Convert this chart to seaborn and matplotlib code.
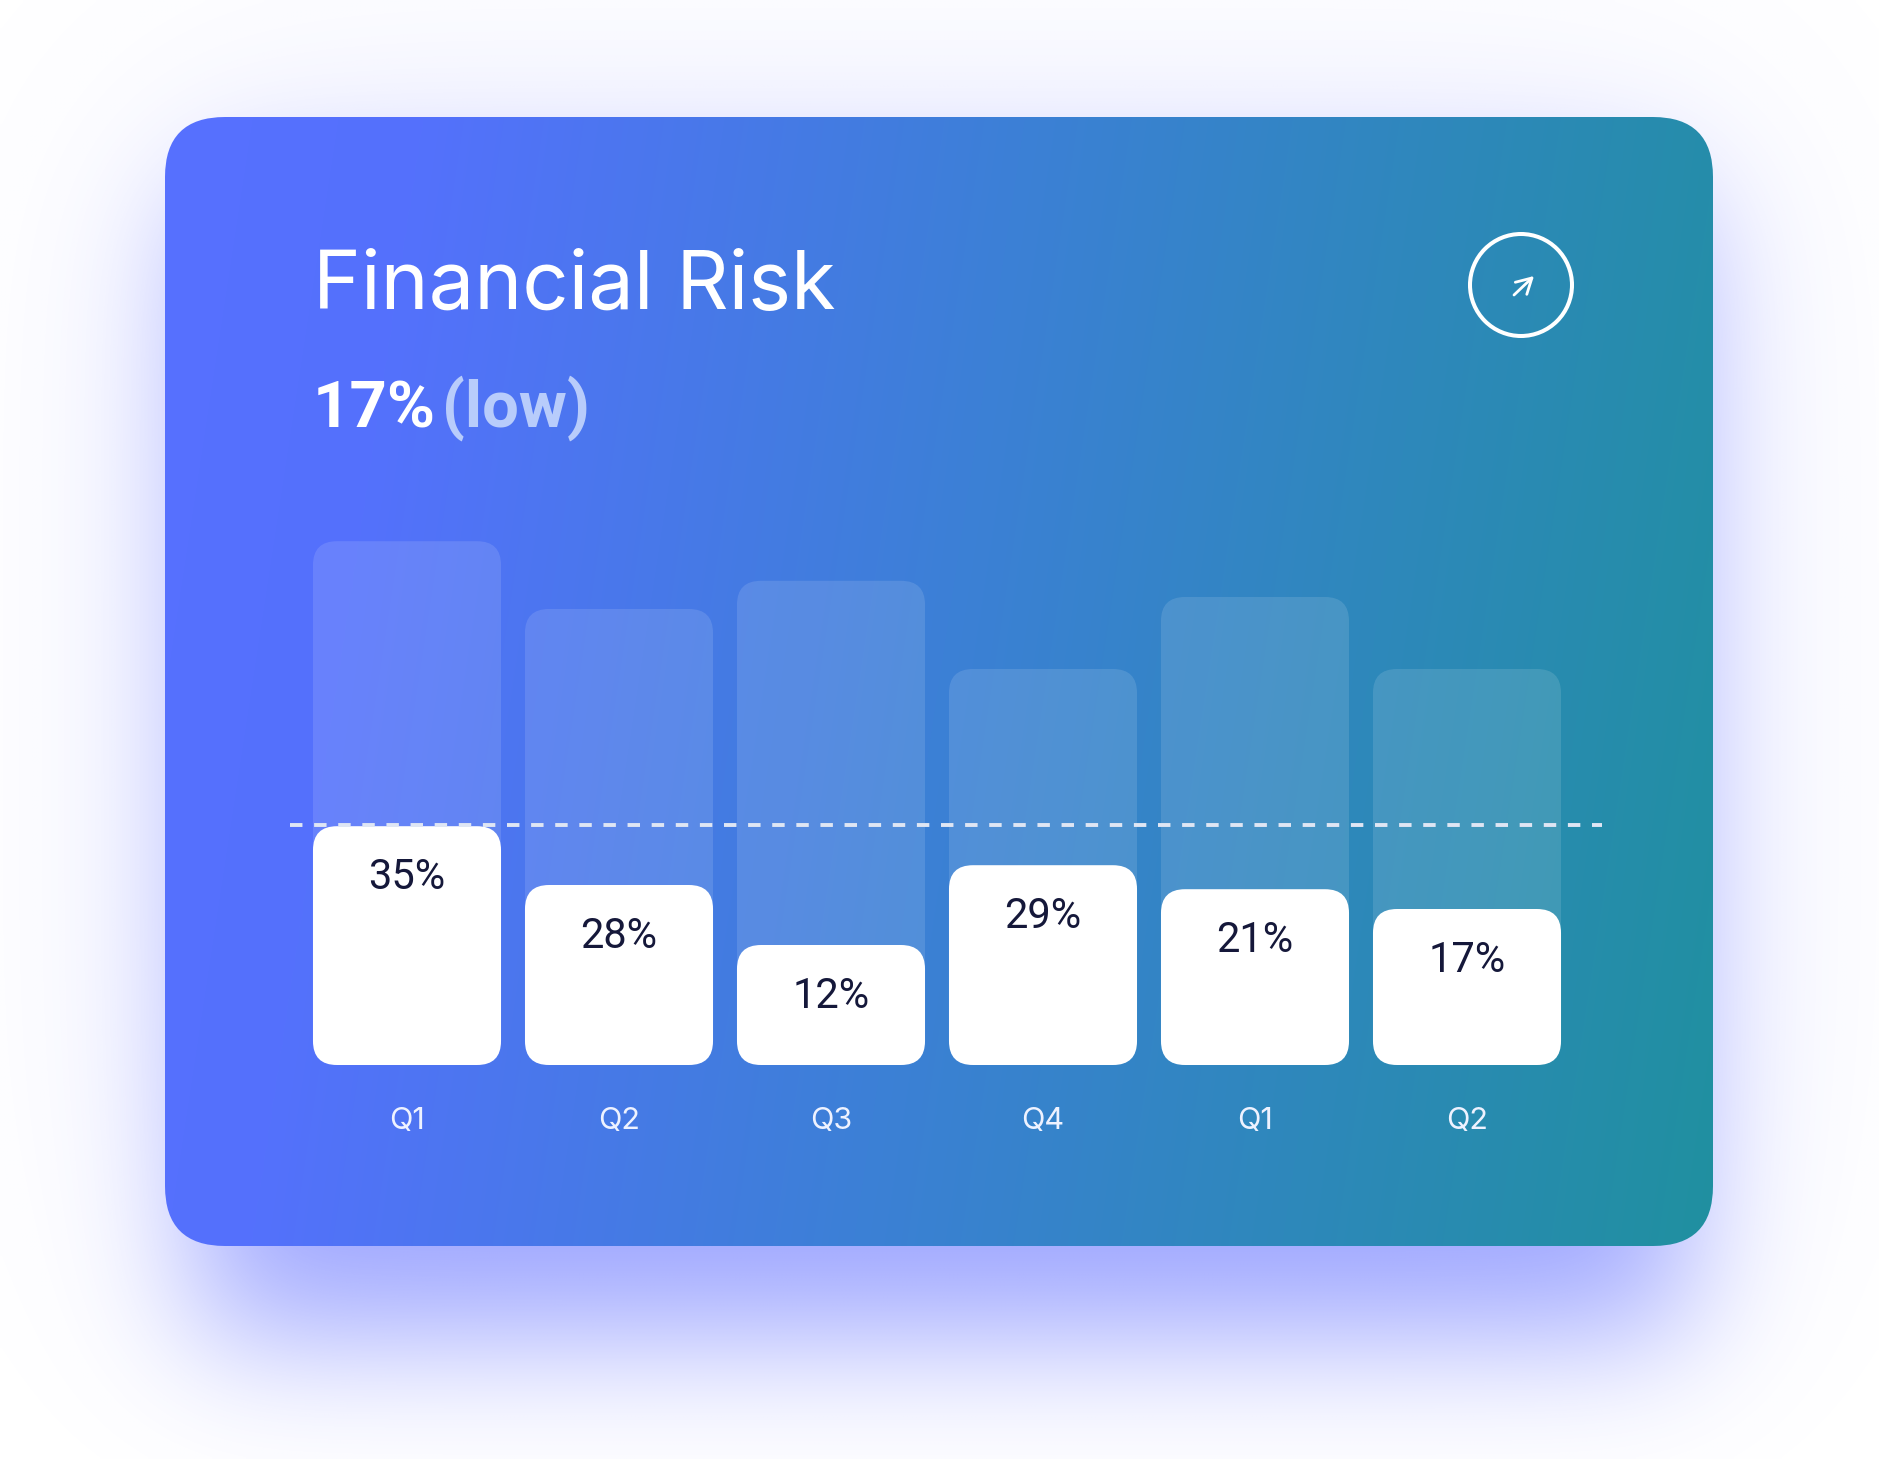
import numpy as np
import matplotlib
matplotlib.use("Agg")
import matplotlib.pyplot as plt
from matplotlib.patches import FancyBboxPatch, Circle
import seaborn as sns

# data
periods = ["Q1 2023", "Q2 2023", "Q3 2023", "Q4 2023", "Q1 2024", "Q2 2024"]
quarter_labels = ["Q1", "Q2", "Q3", "Q4", "Q1", "Q2"]
exposure = [87.3, 76.0, 80.7, 66.0, 78.0, 66.0]      # pale back columns
risk_height = [39.8, 30.0, 20.0, 33.3, 29.3, 26.0]   # white columns
risk_pct = [35, 28, 12, 29, 21, 17]
threshold = 40
current_pct = 17
current_level = "low"

W, H = 1879, 1459
sns.set_theme(style="white")
plt.rcParams["font.family"] = ["Inter", "DejaVu Sans"]

fig = plt.figure(figsize=(W / 100, H / 100), dpi=100, facecolor="white")

# background layer in pixel coordinates
bg = fig.add_axes([0, 0, 1, 1])
bg.set_xlim(0, W)
bg.set_ylim(H, 0)
bg.axis("off")

cx0, cy0, cx1, cy1 = 165, 117, 1713, 1246

# soft bluish glow under the card
step = 4
gy = (np.arange(H // step) + 0.5) * step
gx = (np.arange(W // step) + 0.5) * step


def blur_rect(x0, y0, x1, y1, sigma):
    m = ((gy[:, None] >= y0) & (gy[:, None] <= y1) & (gx[None, :] >= x0) & (gx[None, :] <= x1)).astype(float)
    s = sigma / step
    iy = np.arange(len(gy))
    ix = np.arange(len(gx))
    ky = np.exp(-(iy[:, None] - iy[None, :]) ** 2 / (2 * s * s))
    kx = np.exp(-(ix[:, None] - ix[None, :]) ** 2 / (2 * s * s))
    ky /= np.sqrt(2 * np.pi) * s
    kx /= np.sqrt(2 * np.pi) * s
    return ky @ m @ kx.T


glow = 0.5 * blur_rect(cx0 + 30, cy0 + 80, cx1 - 30, cy1 + 90, 65)
glow += 0.12 * blur_rect(cx0, cy0, cx1, cy1, 140)
glow = np.clip(glow, 0, 1)
shadow = np.zeros(glow.shape + (4,))
shadow[..., 0] = 85 / 255
shadow[..., 1] = 100 / 255
shadow[..., 2] = 1.0
shadow[..., 3] = glow
bg.imshow(shadow, extent=(0, W, H, 0), interpolation="bilinear", zorder=0)

# card with gradient fill
card = FancyBboxPatch((cx0, cy0), cx1 - cx0, cy1 - cy0,
                      boxstyle="round,pad=0,rounding_size=60",
                      fc="none", ec="none", zorder=1)
bg.add_patch(card)
u = np.linspace(0, 1, 400)[None, :]
v = np.linspace(0, 1, 300)[:, None]
t = 0.9 * u + 0.1 * v
stops = [0.0, 0.15, 0.5, 1.0]
cols = np.array([[87, 112, 255], [84, 113, 252], [60, 128, 214], [32, 144, 160]]) / 255
grad = np.dstack([np.interp(t, stops, cols[:, k]) for k in range(3)])
im = bg.imshow(grad, extent=(cx0, cx1, cy1, cy0), interpolation="bilinear", zorder=1)
im.set_clip_path(card)

# header texts
bg.text(313, 309, "Financial Risk", fontsize=58.5, color="white", va="baseline", zorder=3)
sub_font = ["Roboto", "DejaVu Sans"]
pct = bg.text(313, 428, f"{current_pct}%", fontsize=47, fontweight="bold", color="white",
              family=sub_font, va="baseline", zorder=3)
bg.annotate(f"({current_level})", xy=(1, 0), xycoords=pct, xytext=(4, 0), textcoords="offset points",
            fontsize=47, fontweight="semibold", color="#b8ccfb", family=sub_font,
            va="bottom", ha="left", zorder=3)

# round button with arrow
bg.add_patch(Circle((1521, 285), 51, fill=False, ec="white", lw=2.9, zorder=3))
bg.annotate("", xy=(1534, 276), xytext=(1514, 295),
            arrowprops=dict(arrowstyle="->,head_length=0.9,head_width=0.5", color="white",
                            lw=2.0, shrinkA=0, shrinkB=0), zorder=3)

# chart axes
ax_left, ax_right, ax_bottom, ax_top = 290, 1602, 1065, 465
ax = fig.add_axes([ax_left / W, (H - ax_bottom) / H, (ax_right - ax_left) / W, (ax_bottom - ax_top) / H])
ax.patch.set_alpha(0)

sns.barplot(x=periods, y=exposure, ax=ax, color="white", alpha=0.12, width=0.887,
            saturation=1, errorbar=None, zorder=2)
sns.barplot(x=periods, y=risk_height, ax=ax, color="white", width=0.887,
            saturation=1, errorbar=None, zorder=3)

step_px = 212
first_center = 407
ax.set_xlim((ax_left - first_center) / step_px, (ax_right - first_center) / step_px)
ax.set_ylim(0, 100)

# swap the square bars for rounded ones
px_per_x = step_px
px_per_y = (ax_bottom - ax_top) / 100
aspect = px_per_x / px_per_y
radius = 24 / px_per_x
for bar in list(ax.patches):
    x, y = bar.get_xy()
    fancy = FancyBboxPatch((x, y), bar.get_width(), bar.get_height(),
                           boxstyle=f"round,pad=0,rounding_size={radius}",
                           mutation_aspect=aspect, fc=bar.get_facecolor(), ec="none", lw=0,
                           zorder=bar.get_zorder())
    bar.remove()
    ax.add_patch(fancy)

ax.axhline(threshold, color="#dfe6f4", lw=2.8, linestyle=(0, (3.2, 3.0)), zorder=5)

for i, (h, p) in enumerate(zip(risk_height, risk_pct)):
    ax.annotate(f"{p}%", xy=(i, h), xytext=(0, -37), textcoords="offset points",
                ha="center", va="center", fontsize=30, color="#15183a",
                family=["Roboto", "DejaVu Sans"], zorder=6)

ax.set_xticks(range(len(periods)))
ax.set_xticklabels(quarter_labels)
ax.tick_params(axis="x", length=0, pad=30, labelsize=22, labelcolor="#eef2ff")
ax.set_yticks([])
ax.set_xlabel("")
ax.set_ylabel("")
sns.despine(ax=ax, left=True, bottom=True)

fig.savefig("out.png", dpi=100, facecolor="white")
